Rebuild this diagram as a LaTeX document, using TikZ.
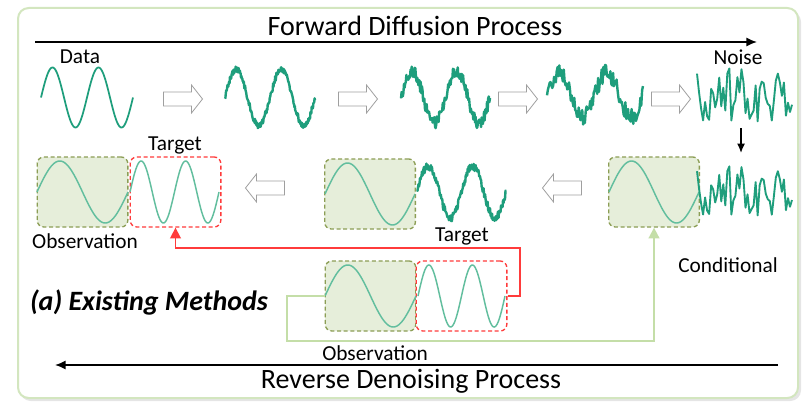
\documentclass[tikz,border=0pt]{standalone}
\usepackage{fontspec}
\setmainfont{Carlito}
\usepackage{tikz}
\usetikzlibrary{arrows.meta}
\definecolor{wavegreen}{HTML}{1E9E7C}
\definecolor{lightwave}{HTML}{62BE9E}
\definecolor{obsfill}{HTML}{E6EEDA}
\definecolor{obsline}{HTML}{8C9E55}
\definecolor{tgtred}{HTML}{FF3B3B}
\definecolor{condgreen}{HTML}{C4DEA8}
\definecolor{framegreen}{HTML}{D3E6BF}

\begin{document}
\begin{tikzpicture}[x=0.75pt, y=-0.75pt,
  every node/.style={font=\fontsize{16}{18}\selectfont, inner sep=0pt},
  frame/.style={draw=framegreen, line width=1.5pt, rounded corners=8pt},
  obsbox/.style={draw=obsline, fill=obsfill, dash pattern=on 3pt off 2pt, line width=1pt, rounded corners=5pt, minimum width=68pt, minimum height=52.5pt},
  tgtbox/.style={obsbox, draw=tgtred, fill=white},
  cleanwave/.style={lightwave, line width=1.1pt},
  datawave/.style={wavegreen, line width=1.3pt},
  noisywave/.style={wavegreen, line width=1.8pt, line join=round},
  blockarrow/.style={draw=gray!75, fill=white, line width=0.6pt},
  process/.style={-{Latex[length=8pt,width=7pt]}, line width=1.4pt},
  title/.style={font=\fontsize{21}{24}\selectfont}]
  \useasboundingbox (0,0) rectangle (802,403);

  % frame with its shadow
  \fill[gray!20, rounded corners=8pt] (20,11) rectangle (801,401);
  \draw[frame, fill=white] (18,8) rectangle (798,398);

  % process arrows and titles
  \coordinate (fwdL) at (35,42);
  \coordinate (fwdR) at (757,42);
  \draw[process] (fwdL) -- (fwdR);
  \node[title] (fwd) at (415,26) {Forward Diffusion Process};
  \coordinate (revR) at (778,365);
  \coordinate (revL) at (55,365);
  \draw[process] (revR) -- (revL);
  \node[title] (rev) at (411,381) {Reverse Denoising Process};

  % observation / target boxes
  \node[obsbox] (obsA) at (82.5,192) {};
  \node[tgtbox] (tgtA) at (175.5,192) {};
  \node[obsbox] (obsB) at (370,194) {};
  \node[obsbox] (obsC) at (654,192) {};
  \node[obsbox] (obsD) at (370.5,296) {};
  \node[tgtbox] (tgtD) at (461.5,296) {};

  % clean data wave
  \draw[datawave] plot[domain=41:133, samples=100] (\x, {97.5-30*sin((\x-41)/92*720)});

  % clean waves inside the boxes
  \foreach \xs/\xe/\yc/\per in {37/128/192/1, 130/219/192/2, 325/415/194/1,
                                609/699/192/1, 325/416/296/1, 418/505/296/2} {
    \draw[cleanwave] plot[domain=\xs:\xe, samples=90]
      (\x, {\yc-31*sin((\x-\xs)/(\xe-\xs)*360*\per)});
  }

  % noisy waves (forward steps, reverse row)
  \foreach \xs/\xe/\yc/\amp/\nz/\ns/\seed in {225/315/97.5/28/3/220/3, 401/490/97/26/6/150/7,
                                             547/643/95/22/9/110/11, 417/506/192/26/4/180/13} {
    \pgfmathsetseed{\seed}
    \draw[noisywave] plot[domain=\xs:\xe, samples=\ns]
      (\x, {\yc-\amp*sin((\x-\xs)/(\xe-\xs)*720)+\nz*rand});
  }
  % pure noise, same series twice
  \foreach \yc/\h in {95/27, 191/25} {
    \pgfmathsetseed{21}
    \draw[noisywave, line width=1.4pt] plot[domain=697:792, samples=48] (\x, {\yc+\h*rand});
  }

  % hollow step arrows (1 = right, -1 = left)
  \foreach \xa/\ya/\dir in {183/99/1, 358/99/1, 518/99/1, 671/99/1, 265/188/-1, 562/188/-1} {
    \draw[blockarrow, shift={(\xa,\ya)}, xscale=\dir]
      (-19.5,-7) -- (8.5,-7) -- (8.5,-14) -- (19.5,0) -- (8.5,14) -- (8.5,7) -- (-19.5,7) -- cycle;
  }

  % labels
  \node (data) at (80,57) {Data};
  \node (noise) at (738,57) {Noise};
  \node (tgtlblA) at (175,145) {Target};
  \node (obslblA) at (85,241) {Observation};
  \node (tgtlblB) at (462,236) {Target};
  \node (cond) at (728,265) {Conditional};
  \node (obslblD) at (375,353) {Observation};
  \node[font=\bfseries\itshape\fontsize{21}{24}\selectfont] (method) at (149,302) {(a) Existing Methods};

  % connectors
  \coordinate (dnT) at (741,128);
  \coordinate (dnB) at (741,153);
  \draw[-{Latex[length=7pt,width=6pt]}, line width=1.2pt] (dnT) -- (dnB);
  \coordinate (redC) at (520,248);
  \draw[tgtred, line width=1.2pt, -{Triangle[length=8pt,width=8pt]}] (tgtD.east) -| (redC) -| (tgtA.south);
  \coordinate (condC) at (287,341);
  \draw[condgreen, line width=1.4pt, -{Triangle[length=8pt,width=8pt]}] (obsD.west) -| (condC) -| (obsC.south);
\end{tikzpicture}
\end{document}
